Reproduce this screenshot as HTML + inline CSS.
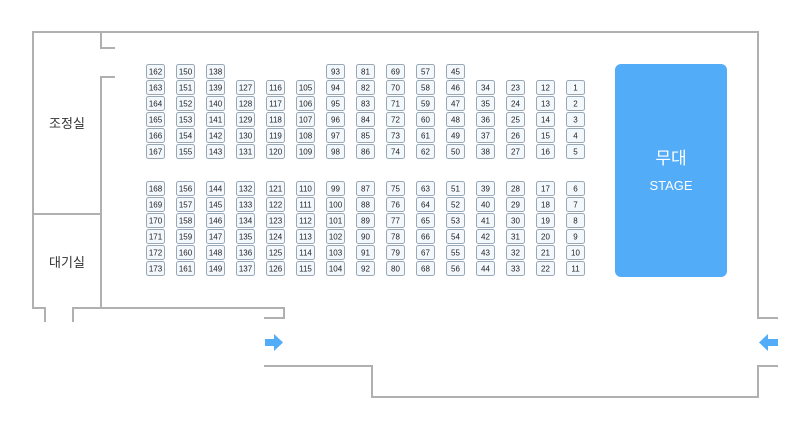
<!DOCTYPE html>
<html><head><meta charset="utf-8"><style>
html,body{margin:0;padding:0;background:#fff;width:810px;height:430px;overflow:hidden}
svg{display:block}
.s{fill:#f3f8fd;stroke:#9aa8b6;stroke-width:1}
.t{font-family:"Liberation Sans",sans-serif;font-size:8px;fill:#222;text-anchor:middle}
.w{fill:none;stroke:#b0b0b0;stroke-width:2}
</style></head><body>
<svg id="m" width="810" height="430" xmlns="http://www.w3.org/2000/svg">
<path class="w" d="M45 322V308H33V32H758V318H778"/>
<path class="w" d="M33 214H100"/>
<path class="w" d="M101 32V48H115"/>
<path class="w" d="M115 77H101V308"/>
<path class="w" d="M73 322V308H284V318H264"/>
<path class="w" d="M264 366H372V397H758V366H778"/>
<path d="M265 339H274V334L283 342.5L274 351V346H265Z" fill="#52acf8"/>
<path d="M778 339H768V334L759 342.5L768 351V346H778Z" fill="#52acf8"/>
<rect x="615" y="64" width="112" height="213" rx="6" fill="#52acf8"/>
<text x="671" y="164" font-family="'Liberation Sans','Noto Sans CJK KR',sans-serif" font-size="17" fill="#fff" text-anchor="middle">무대</text>
<text x="671" y="190" font-family="'Liberation Sans',sans-serif" font-size="13" fill="#fff" text-anchor="middle">STAGE</text>
<text x="67" y="128" font-family="'Liberation Sans','Noto Sans CJK KR',sans-serif" font-size="13" fill="#333" text-anchor="middle">조정실</text>
<text x="67" y="267" font-family="'Liberation Sans','Noto Sans CJK KR',sans-serif" font-size="13" fill="#333" text-anchor="middle">대기실</text>
<g id="seats"></g>
</svg>
<script>
(function(){
var topCols=[[162,6],[150,6],[138,6],[127,5],[116,5],[105,5],[93,6],[81,6],[69,6],[57,6],[45,6],[34,5],[23,5],[12,5],[1,5]];
var botCols=[168,156,144,132,121,110,99,87,75,63,51,39,28,17,6];
var g=document.getElementById('seats');
var NS='http://www.w3.org/2000/svg';
function seat(x,y,n){
 var r=document.createElementNS(NS,'rect');
 r.setAttribute('class','s');r.setAttribute('x',x+0.5);r.setAttribute('y',y+0.5);
 r.setAttribute('width',18);r.setAttribute('height',14);r.setAttribute('rx',2);
 g.appendChild(r);
 var t=document.createElementNS(NS,'text');
 t.setAttribute('class','t');t.setAttribute('x',x+9.5);t.setAttribute('y',y+10.5);
 t.textContent=String(n);g.appendChild(t);
}
for(var c=0;c<15;c++){var x=146+30*c;var st=topCols[c][0],cnt=topCols[c][1];
 for(var i=0;i<cnt;i++){var r=6-cnt+i;seat(x,64+16*r,st+i);}
 for(var j=0;j<6;j++){seat(x,181+16*j,botCols[c]+j);}
}
})();
</script>
</body></html>
